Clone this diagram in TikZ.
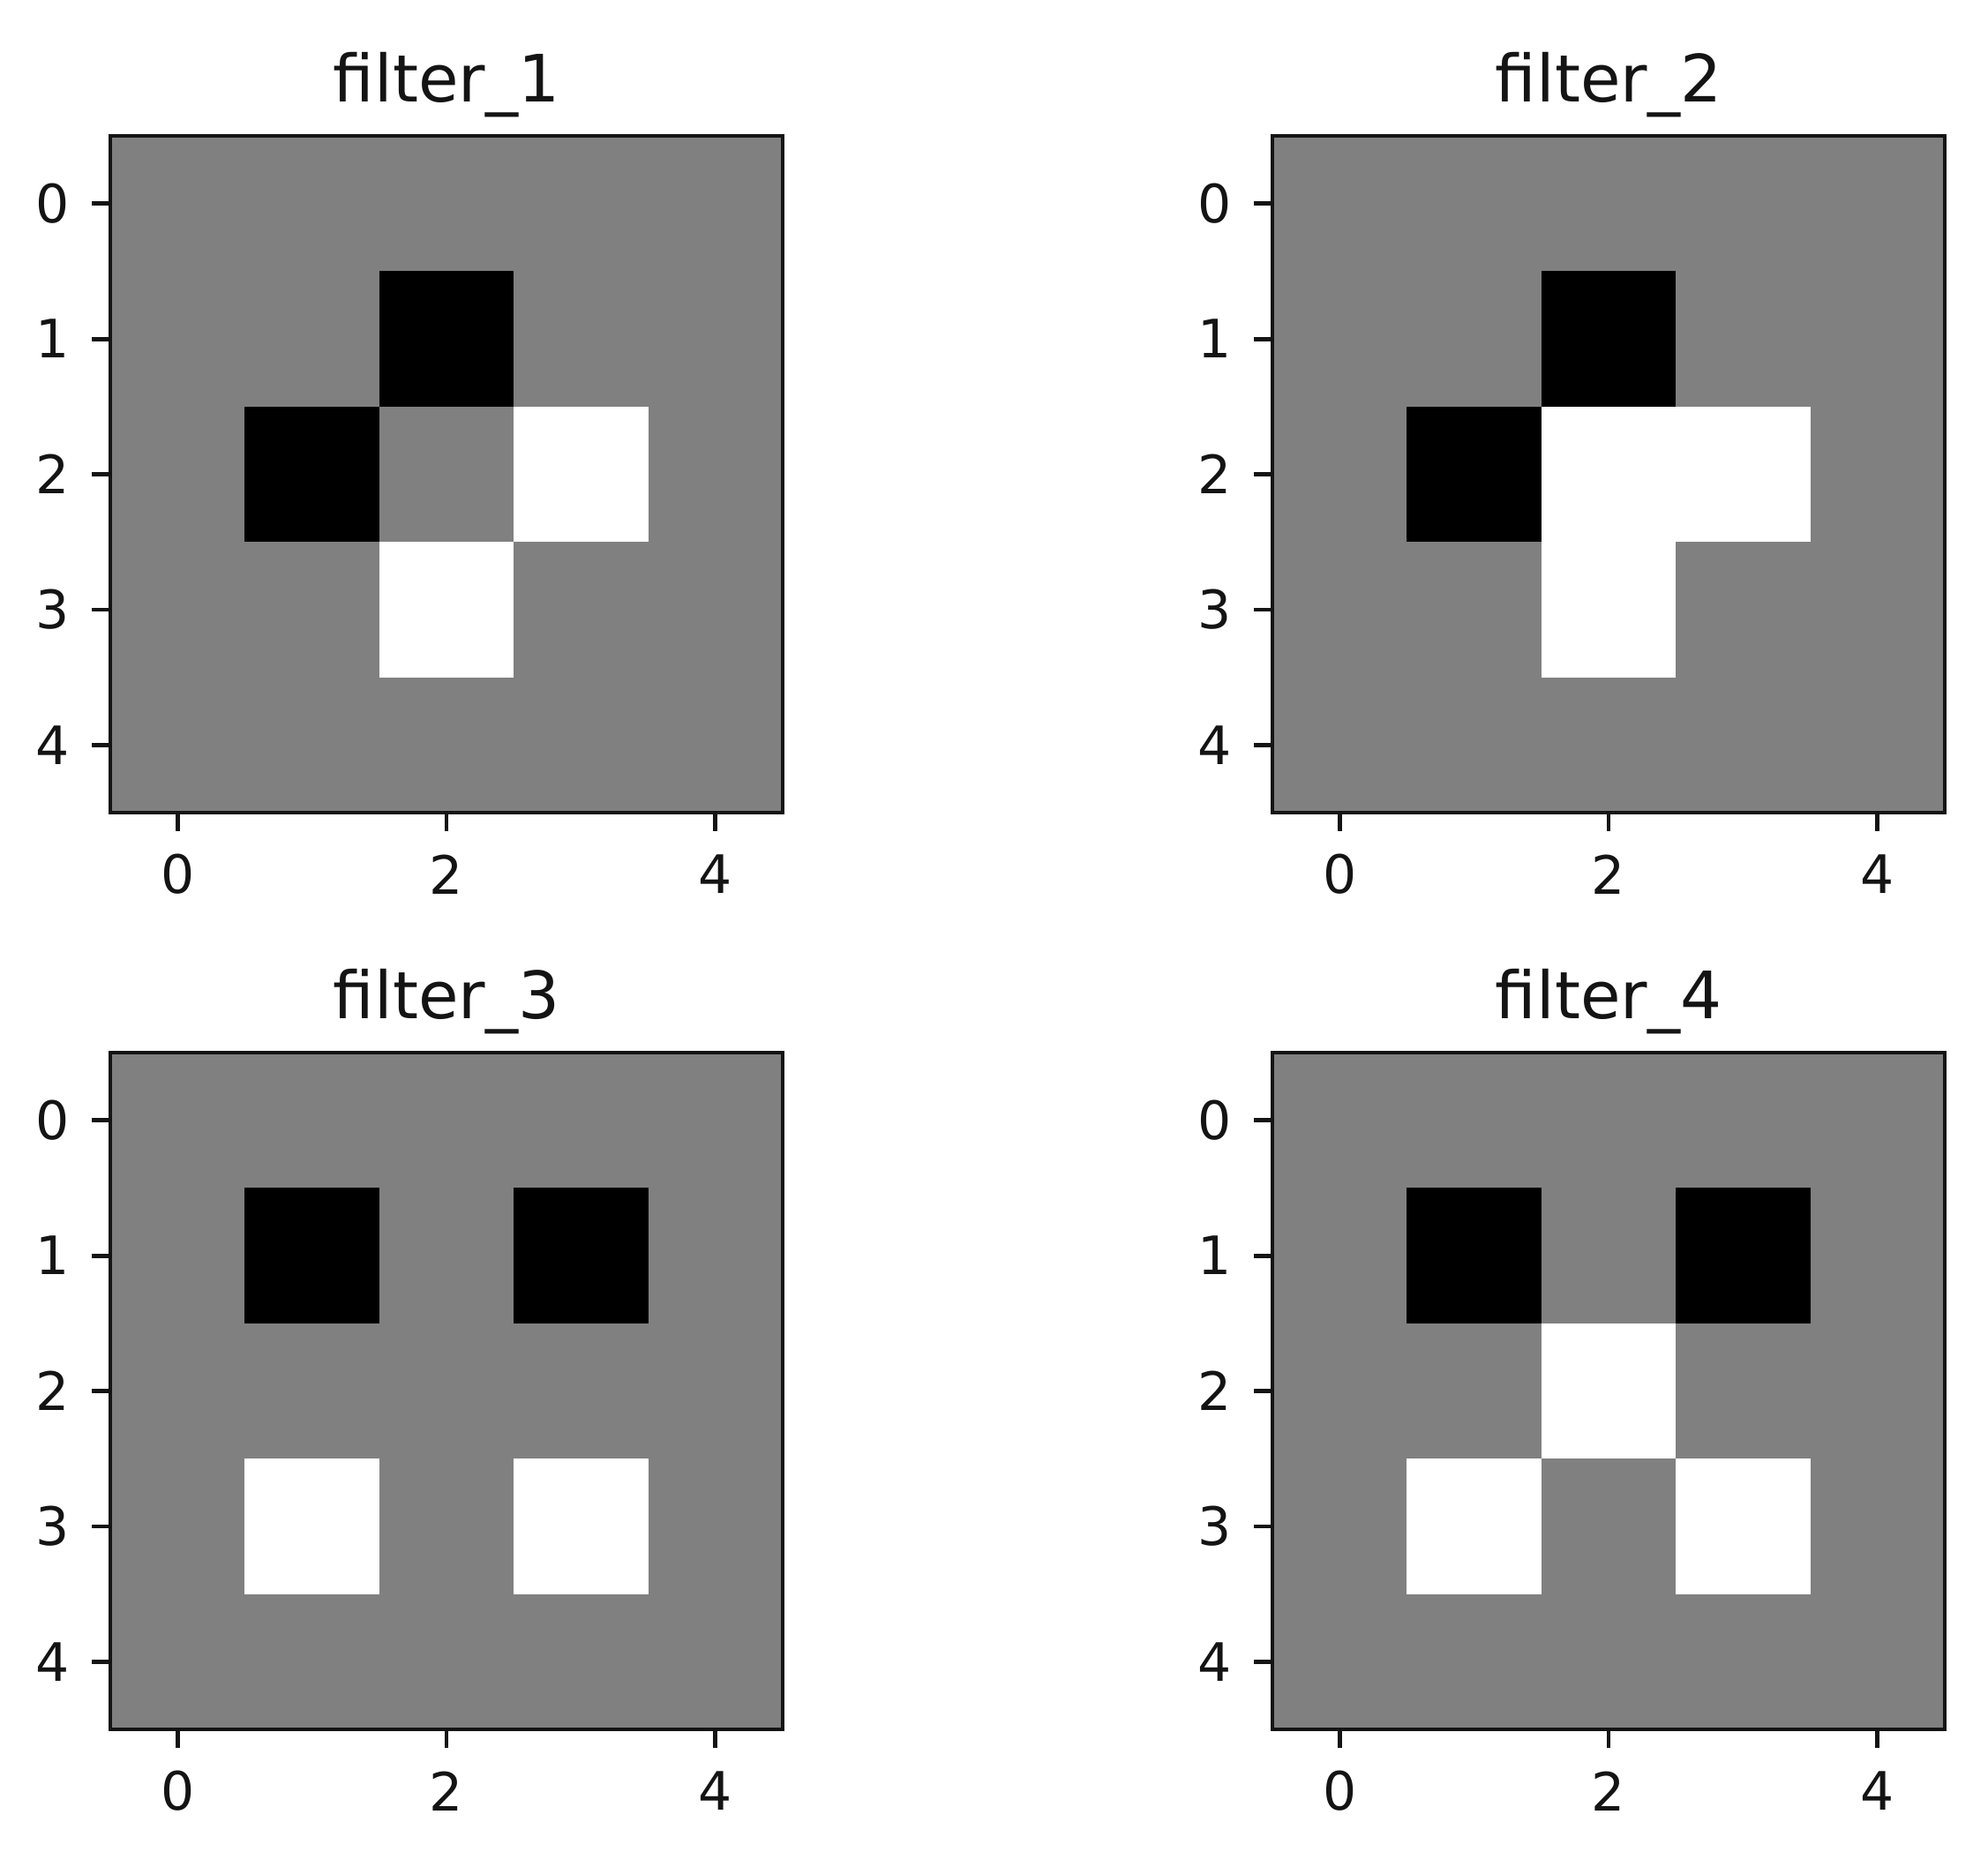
\documentclass[tikz,border=0pt]{standalone}
\usepackage{fontspec}
\setmainfont{DejaVu Sans}
\definecolor{cellgray}{RGB}{128,128,128}
\definecolor{inkcol}{RGB}{20,20,20}
\tikzset{
  spine/.style={draw=inkcol, line width=1.2pt},
  tickline/.style={draw=inkcol, line width=1.2pt},
  ticklab/.style={inner sep=0pt, text=inkcol, font=\fontsize{15}{18}\selectfont},
  titlelab/.style={inner sep=0pt, anchor=base, text=inkcol, font=\fontsize{18.5}{22}\selectfont},
}
% #1 xshift, #2 yshift, #3 title, #4 black cells r/c, #5 white cells r/c, #6 name prefix
\newcommand\filterpanel[6]{%
  \begin{scope}[shift={(#1,#2)}, x=38.1pt, y=-38.35pt]
    \fill[cellgray] (0,0) rectangle (5,5);
    \foreach \r/\c in {#4} \fill[black] (\c,\r) rectangle ++(1,1);
    \foreach \r/\c in {#5} \fill[white] (\c,\r) rectangle ++(1,1);
    \draw[spine] (0,0) rectangle (5,5);
    \foreach \i in {0,...,4} {
      \draw[tickline] (0,\i+0.5) -- ++(-5.15pt,0);
      \node[ticklab, anchor=east] (#6-y\i) at ([xshift=-11.5pt]0,\i+0.5) {\i};
    }
    \foreach \i in {0,2,4} {
      \draw[tickline] (\i+0.5,5) -- ++(0,-5.15pt);
      \node[ticklab, anchor=center] (#6-x\i) at ([yshift=-17.5pt]\i+0.5,5) {\i};
    }
    \node[titlelab] (#6-title) at ([yshift=9.75pt]2.5,0) {#3};
  \end{scope}}
\begin{document}
\begin{tikzpicture}[x=1pt,y=-1pt]
  \useasboundingbox (0,0) rectangle (563.25,524.75);
  \filterpanel{31.25pt}{-38.5pt}{filter\_1}{1/2,2/1}{2/3,3/2}{pa}
  \filterpanel{360.5pt}{-38.5pt}{filter\_2}{1/2,2/1}{2/2,2/3,3/2}{pb}
  \filterpanel{31.25pt}{-298.25pt}{filter\_3}{1/1,1/3}{3/1,3/3}{pc}
  \filterpanel{360.5pt}{-298.25pt}{filter\_4}{1/1,1/3}{2/2,3/1,3/3}{pd}
\end{tikzpicture}
\end{document}
